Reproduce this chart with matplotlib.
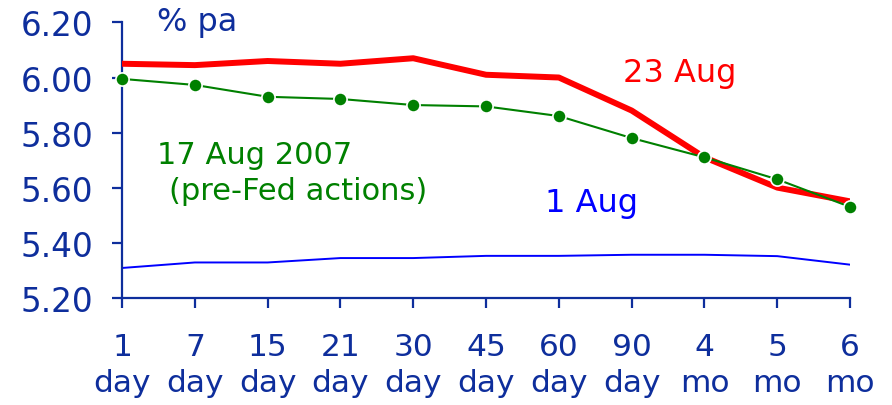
import matplotlib
matplotlib.use("Agg")
import matplotlib.pyplot as plt
import numpy as np

# maturities on the x axis
maturities = ["1\nday", "7\nday", "15\nday", "21\nday", "30\nday", "45\nday",
              "60\nday", "90\nday", "4\nmo", "5\nmo", "6\nmo"]

# yields, % pa
aug23 = [6.05, 6.045, 6.06, 6.05, 6.07, 6.01, 6.00, 5.88, 5.71, 5.60, 5.55]
aug17 = [5.995, 5.973, 5.93, 5.922, 5.90, 5.895, 5.86, 5.78, 5.71, 5.63, 5.53]
aug01 = [5.308, 5.328, 5.328, 5.344, 5.344, 5.352, 5.352, 5.356, 5.356, 5.351, 5.32]

yticks = [5.20, 5.40, 5.60, 5.80, 6.00, 6.20]

navy = "#0E2E9C"
red = "#FF0000"
green = "#008000"
blue = "#0000FF"

fig = plt.figure(figsize=(8.92, 4.06), dpi=100)
ax = fig.add_axes([0.1368, 0.2643, 0.8162, 0.6779])

x = np.arange(len(maturities))

ax.plot(x, aug01, color=blue, linewidth=1.4, zorder=2)
ax.plot(x, aug23, color=red, linewidth=4.3, solid_joinstyle="round", zorder=3)
ax.plot(x, aug17, color=green, linewidth=1.5, marker="o", markersize=9.5,
        markerfacecolor=green, markeredgecolor="white", markeredgewidth=1.2,
        zorder=4, clip_on=False)

ax.set_xlim(0, len(maturities) - 1)
ax.set_ylim(5.20, 6.20)
ax.set_xticks(x)
ax.set_xticklabels(maturities, fontsize=22.5, color=navy, linespacing=1.3)
ax.set_yticks(yticks)
ax.set_yticklabels([f"{v:.2f}" for v in yticks], fontsize=23.5, color=navy)

for side in ["top", "right"]:
    ax.spines[side].set_visible(False)
for side in ["left", "bottom"]:
    ax.spines[side].set_color(navy)
    ax.spines[side].set_linewidth(1.6)

ax.tick_params(axis="y", direction="out", length=7, width=1.6, color=navy, pad=14)
ax.tick_params(axis="x", direction="out", length=7, width=1.6, color=navy, pad=18)

ax.text(0.48, 6.205, "% pa", color=navy, fontsize=23, ha="left", va="center")
ax.text(6.88, 6.02, "23 Aug", color=red, fontsize=23, ha="left", va="center")
ax.text(5.81, 5.547, "1 Aug", color=blue, fontsize=23, ha="left", va="center")
ax.text(0.48, 5.72, "17 Aug 2007", color=green, fontsize=22, ha="left", va="center")
ax.text(0.65, 5.59, "(pre-Fed actions)", color=green, fontsize=22, ha="left", va="center")

fig.savefig("out.png", dpi=100)
